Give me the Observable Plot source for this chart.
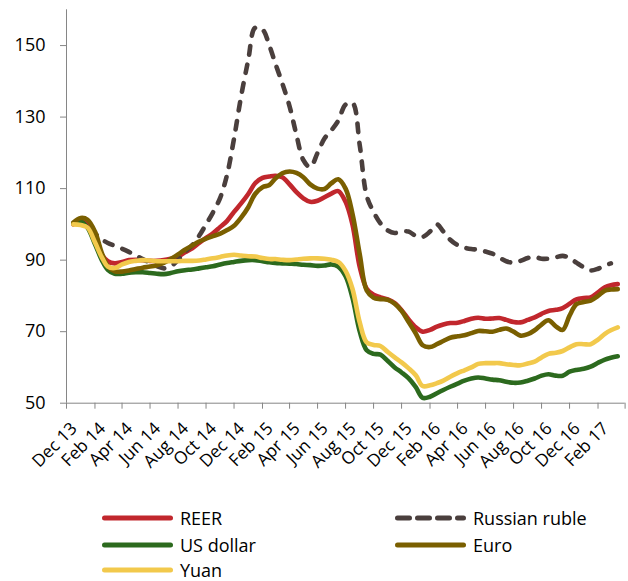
<!DOCTYPE html>
<html><head><meta charset="utf-8">
<script src="https://cdn.jsdelivr.net/npm/d3@7"></script>
<script src="https://cdn.jsdelivr.net/npm/@observablehq/plot@0.6"></script>
<style>
body{margin:0;background:#fff;font-family:"Open Sans",sans-serif;}
#wrap{position:relative;width:628px;height:581px;overflow:hidden;background:#fff;}
#chart{position:absolute;left:0;top:0;}
.lg{position:absolute;display:flex;align-items:center;height:20px;font-size:18px;line-height:20px;color:#000;white-space:nowrap;font-family:"Open Sans",sans-serif;}
.lg svg{display:block;}
</style></head><body>
<div id="wrap"><div id="chart"></div><div id="legend"></div></div>
<script>
const dates = ["2013-12-16","2014-01-01","2014-01-16","2014-02-01","2014-02-16","2014-03-01","2014-03-16","2014-04-01","2014-04-16","2014-05-01",
"2014-05-16","2014-06-01","2014-06-16","2014-07-01","2014-07-16","2014-08-01","2014-08-16","2014-09-01","2014-09-16","2014-10-01",
"2014-10-16","2014-11-01","2014-11-16","2014-12-01","2014-12-16","2015-01-01","2015-01-16","2015-02-01","2015-02-16","2015-03-01",
"2015-03-16","2015-04-01","2015-04-16","2015-05-01","2015-05-16","2015-06-01","2015-06-16","2015-07-01","2015-07-16","2015-08-01",
"2015-08-16","2015-09-01","2015-09-16","2015-10-01","2015-10-16","2015-11-01","2015-11-16","2015-12-01","2015-12-16","2016-01-01",
"2016-01-16","2016-02-01","2016-02-16","2016-03-01","2016-03-16","2016-04-01","2016-04-16","2016-05-01","2016-05-16","2016-06-01",
"2016-06-16","2016-07-01","2016-07-16","2016-08-01","2016-08-16","2016-09-01","2016-09-16","2016-10-01","2016-10-16","2016-11-01",
"2016-11-16","2016-12-01","2016-12-16","2017-01-01","2017-01-16","2017-02-01","2017-02-16","2017-03-01","2017-03-16"];

const reer = [100,100.8,100,95.5,91.5,89.7,89.1,89.5,90,90.1,
90,89.8,89.8,90,90.4,91,92.2,93.3,94.8,96.2,
97.5,99.3,101,103.5,105.8,108.5,111.5,113,113.4,113.6,
113.2,111.2,109,107.3,106.3,106.6,107.6,108.6,109.3,106.3,
100,88,82,80.3,79.6,79,78,76,73.5,71.2,
70,70.5,71.4,72,72.4,72.5,73,73.6,73.9,73.6,
73.7,73.8,73.3,72.7,72.6,73.3,74,75,75.8,76.1,
76.6,77.8,79,79.4,79.6,81,82.4,83,83.3];

const ruble = [100.3,100.5,99,97.4,95.8,94.8,94,93.2,92.3,91.3,
90.3,89.3,88.3,87.7,88.3,90,92.3,94.2,96.8,100,
103.3,107.5,114,124,135.5,146,155,154.5,150,145,
139.5,133,125,118,116,120,124,126.3,129,133.5,
134,122,108,103.5,100.3,98.3,97.6,98,98,96.8,
96.5,98,100,98,95.7,94.2,93.5,93.1,92.9,92.4,
91.8,90.7,89.7,89.3,89.8,90.6,90.9,90.4,90.4,90.8,
91.2,90.6,89.3,88,87.1,87.6,88.5,89.1,null];

const usDollar = [100.2,100.8,99,94.5,90,87.3,86.2,86.2,86.5,86.6,
86.6,86.4,86.2,86.1,86.4,86.9,87.2,87.4,87.7,88,
88.3,88.8,89.2,89.5,89.8,90,90,89.7,89.4,89.2,
89.1,89,88.9,88.7,88.6,88.4,88.5,88.8,88.2,85.5,
79.5,70,64.8,63.8,63.6,61.8,60,58.6,57,54.5,
51.5,51.8,52.8,53.7,54.6,55.5,56.3,56.9,57.2,56.9,
56.6,56.4,56,55.7,55.8,56.3,56.9,57.7,58.1,57.7,
57.7,58.8,59.3,59.6,60.2,61.3,62.2,62.7,63.1];

const euro = [100.5,101.8,101.3,98,92,88.3,86.9,86.8,87.1,87.5,
87.9,88.2,88.6,89.2,90.3,91.6,92.9,94.1,95.2,96,
96.7,97.4,98.4,99.6,101.8,104.8,108.5,110.4,111,112.8,
114.3,114.8,114.4,113.2,111.2,110,109.9,111.5,112.6,110,
103,91.5,81.5,79.5,79.1,78.9,77.8,75.8,72.8,69.5,
66.2,65.7,66.5,67.4,68.3,68.7,69,69.6,70.2,70.1,
70,70.5,70.9,70,68.9,69.3,70.4,72,73.2,71.5,
70.5,74.5,77.7,78.3,78.7,80,81.5,81.8,81.9];

const yuan = [100,99.8,99.1,95,90.8,88.2,87.8,88.8,89.5,89.8,
90,89.9,89.7,89.7,89.7,89.7,89.8,89.8,89.9,90.2,
90.5,90.9,91.3,91.5,91.3,91.1,91,90.6,90.3,90.3,
90.1,90,90.2,90.4,90.5,90.5,90.4,90.1,89.5,87,
82,72.5,67,66.3,66,64.3,62.8,61.4,59.8,57.8,
54.8,55,55.6,56.3,57.4,58.4,59.2,60,61,61.2,
61.2,61.2,60.9,60.7,60.6,61.1,61.6,62.8,63.8,64.1,
64.6,65.6,66.5,66.5,66.5,67.8,69.4,70.4,71.2];

const seriesNames = ["REER","Russian ruble","US dollar","Euro","Yuan"];
const seriesValues = [reer, ruble, usDollar, euro, yuan];
const seriesColors = ["#C1272D","#4A3F3D","#2C6A1E","#7A5F00","#F2C94C"];

const tickDates = ["2013-12-01","2014-02-01","2014-04-01","2014-06-01","2014-08-01","2014-10-01","2014-12-01",
"2015-02-01","2015-04-01","2015-06-01","2015-08-01","2015-10-01","2015-12-01",
"2016-02-01","2016-04-01","2016-06-01","2016-08-01","2016-10-01","2016-12-01","2017-02-01","2017-04-01"];
const tickLabels = ["Dec 13","Feb 14","Apr 14","Jun 14","Aug 14","Oct 14","Dec 14","Feb 15","Apr 15","Jun 15",
"Aug 15","Oct 15","Dec 15","Feb 16","Apr 16","Jun 16","Aug 16","Oct 16","Dec 16","Feb 17"];
const yTicks = [50,70,90,110,130,150];

const xStart = new Date("2013-12-01");
const xEnd = new Date("2017-04-01");
const axisColor = "#868686";

const lineMarks = seriesNames.map((name, s) => {
  const rows = dates.map((d, i) => ({date: new Date(d), value: seriesValues[s][i], series: name}));
  return Plot.line(rows, {
    x: "date", y: "value", stroke: seriesColors[s], strokeWidth: 4.6,
    curve: "catmull-rom", strokeLinecap: "round", strokeLinejoin: "round",
    strokeDasharray: name === "Russian ruble" ? "8.5,10.5" : null
  });
});

const chart = Plot.plot({
  width: 628, height: 490,
  marginLeft: 66, marginRight: 3.4, marginTop: 9.3, marginBottom: 87.3,
  style: {fontFamily: '"Open Sans", sans-serif', fontSize: "18px", background: "#fff", color: "#000", overflow: "visible"},
  x: {type: "utc", domain: [xStart, xEnd]},
  y: {domain: [50, 160]},
  marks: [
    Plot.axisY({ticks: yTicks, tickSize: 6, tickPadding: 15, stroke: axisColor, fill: "#000", fontSize: 18, label: null}),
    Plot.axisX({ticks: tickDates.map(d => new Date(d)), tickSize: 6, stroke: axisColor, fill: "none", label: null}),
    Plot.ruleY([50], {stroke: axisColor}),
    Plot.ruleX([xStart], {y1: 50, y2: 160, stroke: axisColor}),
    Plot.text(tickLabels, {
      x: (d, i) => new Date(tickDates[i]), y: () => 50, text: d => d,
      rotate: -45, textAnchor: "end", lineAnchor: "middle", dx: 7.5, dy: 22.5,
      fontSize: 17.3, fill: "#000"
    }),
    ...lineMarks
  ]
});
document.getElementById("chart").appendChild(chart);

// legend
const legendPos = [[102, 518], [395, 518], [102, 544.5], [395, 544.5], [102, 570]];
const legend = document.getElementById("legend");
seriesNames.forEach((name, s) => {
  const [lx, ly] = legendPos[s];
  const item = document.createElement("div");
  item.className = "lg";
  item.style.left = lx + "px";
  item.style.top = (ly - 10) + "px";
  const dash = name === "Russian ruble" ? ' stroke-dasharray="12,8"' : "";
  item.innerHTML = `<svg width="71" height="20"><line x1="2.5" x2="68.5" y1="10" y2="10" stroke="${seriesColors[s]}" stroke-width="5" stroke-linecap="round"${dash}/></svg><span style="margin-left:7px">${name}</span>`;
  legend.appendChild(item);
});
</script>
</body></html>
